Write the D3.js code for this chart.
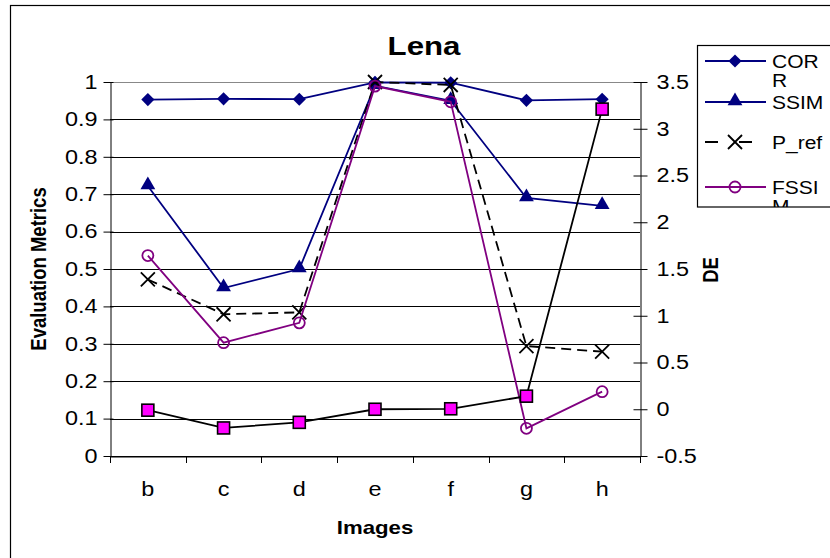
<!DOCTYPE html>
<html>
<head>
<meta charset="utf-8">
<script src="https://cdn.jsdelivr.net/npm/d3@7"></script>
<style>
  html, body { margin: 0; padding: 0; background: #fff; }
  svg { display: block; font-family: "Liberation Sans", Arial, sans-serif; }
</style>
</head>
<body>
<svg id="chart" width="830" height="558"></svg>
<script>
// Image categories along the x axis
const images = ["b", "c", "d", "e", "f", "g", "h"];

// Evaluation metrics (left axis)
const corr  = [0.953, 0.955, 0.954, 0.999, 0.998, 0.951, 0.954];
const ssim  = [0.722, 0.449, 0.500, 0.990, 0.950, 0.690, 0.669];
const pRef  = [0.472, 0.379, 0.384, 1.000, 0.992, 0.294, 0.279];
const fssim = [0.536, 0.303, 0.356, 0.989, 0.947, 0.074, 0.172];

// DE (right axis)
const de = [-0.01, -0.20, -0.14, 0.00, 0.005, 0.14, 3.21];

const leftTicks  = [0, 0.1, 0.2, 0.3, 0.4, 0.5, 0.6, 0.7, 0.8, 0.9, 1];
const rightTicks = [-0.5, 0, 0.5, 1, 1.5, 2, 2.5, 3, 3.5];
const legendNames = ["CORR", "SSIM", "P_ref", "FSSIM"];

const FONT = "Liberation Sans, Arial, sans-serif";
const WIDE = 1.2; // horizontal widening applied to all text

const svg = d3.select("#chart");
const plot = { left: 110, right: 640, top: 82, bottom: 456 };

const x = d3.scaleBand().domain(images).range([plot.left, plot.right]).padding(0);
const yL = d3.scaleLinear().domain([0, 1]).range([plot.bottom, plot.top]);
const yR = d3.scaleLinear().domain([-0.5, 3.5]).range([plot.bottom, plot.top]);
const cx = d => x(d) + x.bandwidth() / 2;

// widen text horizontally while keeping its anchor
function widen(sel) {
  sel.each(function () {
    const w = this.getComputedTextLength();
    if (w > 0) d3.select(this).attr("textLength", w * WIDE).attr("lengthAdjust", "spacingAndGlyphs");
  });
}

// Outer chart frame
svg.append("rect")
  .attr("x", 10.5).attr("y", 5.5).attr("width", 830).attr("height", 570)
  .attr("fill", "#fff").attr("stroke", "#000").attr("stroke-width", 1.2);

// Horizontal gridlines
svg.append("g").selectAll("line").data(leftTicks).join("line")
  .attr("x1", plot.left).attr("x2", plot.right)
  .attr("y1", d => Math.round(yL(d)) + 0.5).attr("y2", d => Math.round(yL(d)) + 0.5)
  .attr("stroke", d => d === 1 ? "#888" : "#000").attr("stroke-width", 1);

function styleAxis(ax) {
  ax.attr("font-size", null).attr("font-family", null);
  ax.select(".domain").attr("stroke", "#000");
  ax.selectAll("text").style("font-size", "19.5px").style("font-family", FONT).attr("fill", "#000");
}

// Left axis
const axL = svg.append("g").attr("transform", `translate(${plot.left + 0.5},0)`)
  .call(d3.axisLeft(yL).tickValues(leftTicks).tickFormat(d => String(d)).tickSizeOuter(0).tickSizeInner(7).tickPadding(6));
axL.selectAll(".tick line").attr("x2", -7).attr("x1", 3);
styleAxis(axL);

// Right axis
const axR = svg.append("g").attr("transform", `translate(${plot.right + 0.5},0)`)
  .call(d3.axisRight(yR).tickValues(rightTicks).tickFormat(d => String(d)).tickSizeOuter(0).tickSizeInner(7).tickPadding(9));
axR.selectAll(".tick line").attr("x1", -7).attr("x2", 7);
styleAxis(axR);

// Bottom axis
const axB = svg.append("g").attr("transform", `translate(0,${plot.bottom + 0.5})`)
  .call(d3.axisBottom(x).tickSizeOuter(0).tickSize(0).tickPadding(26));
styleAxis(axB);
// category boundary ticks
svg.append("g").selectAll("line").data(d3.range(images.length + 1)).join("line")
  .attr("x1", i => Math.round(plot.left + i * x.bandwidth()) + 0.5)
  .attr("x2", i => Math.round(plot.left + i * x.bandwidth()) + 0.5)
  .attr("y1", plot.bottom).attr("y2", plot.bottom + 7)
  .attr("stroke", "#000");

// Marker symbols
const diamond = d3.symbol().type(d3.symbolDiamond2).size(110);
const triangle = d3.symbol().type(d3.symbolTriangle).size(95);
const cross = d3.symbol().type(d3.symbolX).size(130);

const markers = {
  diamond: g => g.append("path").attr("d", diamond).attr("fill", "#000080"),
  triangle: g => g.append("path").attr("d", triangle).attr("fill", "#000080").attr("transform", "translate(0,-1)"),
  cross: g => g.append("path").attr("d", cross).attr("fill", "none").attr("stroke", "#000").attr("stroke-width", 1.8),
  circle: g => g.append("circle").attr("r", 5.5).attr("fill", "none").attr("stroke", "#800080").attr("stroke-width", 1.8),
  square: g => g.append("rect").attr("x", -6).attr("y", -6).attr("width", 12).attr("height", 12)
    .attr("fill", "#ff00ff").attr("stroke", "#000").attr("stroke-width", 1.6)
};

function series(values, scale, opts) {
  const g = svg.append("g");
  const line = d3.line().x((d, i) => cx(images[i])).y(d => scale(d));
  g.append("path").datum(values)
    .attr("d", line)
    .attr("fill", "none")
    .attr("stroke", opts.color)
    .attr("stroke-width", 1.8)
    .attr("stroke-dasharray", opts.dash || null);
  const pts = g.selectAll(".m").data(values).join("g")
    .attr("transform", (d, i) => `translate(${cx(images[i])},${scale(d)})`);
  opts.marker(pts);
}

series(corr, yL, { color: "#000080", marker: markers.diamond });
series(ssim, yL, { color: "#000080", marker: markers.triangle });
series(pRef, yL, { color: "#000", dash: "10,6", marker: markers.cross });
series(fssim, yL, { color: "#800080", marker: markers.circle });
series(de, yR, { color: "#000", marker: markers.square });

// Title and axis titles
const title = svg.append("text").attr("x", 424).attr("y", 55).attr("text-anchor", "middle")
  .style("font-size", "26px").attr("font-weight", "bold").text("Lena");
widen(title);
svg.append("text").attr("transform", `translate(46,269) rotate(-90) scale(1,${WIDE})`).attr("text-anchor", "middle")
  .style("font-size", "18.5px").attr("font-weight", "bold").text("Evaluation Metrics");
svg.append("text").attr("transform", `translate(718,270) rotate(-90) scale(1,${WIDE})`).attr("text-anchor", "middle")
  .style("font-size", "18.5px").attr("font-weight", "bold").text("DE");
const xTitle = svg.append("text").attr("x", 375).attr("y", 534).attr("text-anchor", "middle")
  .style("font-size", "18.5px").attr("font-weight", "bold").text("Images");
widen(xTitle);

// Legend (its box runs past the right edge, so entries are clipped)
const lg = svg.append("g");
lg.append("clipPath").attr("id", "lgclip").append("rect")
  .attr("x", 697).attr("y", 45).attr("width", 140).attr("height", 162);
lg.append("rect").attr("x", 697.5).attr("y", 45.5).attr("width", 140).attr("height", 161.5)
  .attr("fill", "#fff").attr("stroke", "#000").attr("stroke-width", 1.2);
const lgIn = lg.append("g").attr("clip-path", "url(#lgclip)");
const rows = [61, 102, 142, 187];
const lgSpec = [
  { color: "#000080", dash: null, mk: markers.diamond, lines: ["COR", "R"] },
  { color: "#000080", dash: null, mk: markers.triangle, lines: ["SSIM"] },
  { color: "#000", dash: "13,21", mk: markers.cross, lines: ["P_ref"] },
  { color: "#800080", dash: null, mk: markers.circle, lines: ["FSSI", "M"] }
];
legendNames.forEach((name, i) => {
  const y = rows[i];
  const spec = lgSpec[i];
  lgIn.append("line").attr("x1", 705).attr("x2", 766).attr("y1", y).attr("y2", y)
    .attr("stroke", spec.color).attr("stroke-width", 1.8)
    .attr("stroke-dasharray", spec.dash);
  spec.mk(lgIn.append("g").attr("transform", `translate(735,${y})`));
  const t = lgIn.append("text").attr("y", y + 7).style("font-size", "17.5px").attr("fill", "#000");
  spec.lines.forEach((s, k) => {
    t.append("tspan").attr("x", 772).attr("dy", k ? 19 : 0).text(s);
  });
  widen(t.selectAll("tspan"));
});

// widen tick labels
widen(svg.selectAll(".tick text"));
</script>
</body>
</html>
